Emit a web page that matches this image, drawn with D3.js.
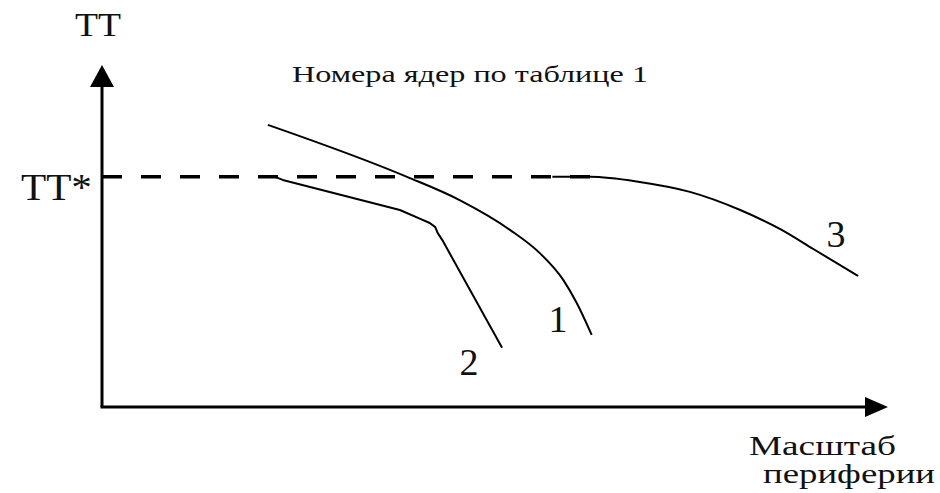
<!DOCTYPE html>
<html>
<head>
<meta charset="utf-8">
<script src="https://cdn.jsdelivr.net/npm/d3@7/dist/d3.min.js"></script>
<style>
  html, body { margin: 0; padding: 0; background: #fff; }
  svg { display: block; }
</style>
</head>
<body>
<svg id="chart" width="940" height="493"></svg>
<script>
// Threshold level TT* (relative units)
const ttStar = 67.3;
const ttStarEnd = 62.1;

// Curves by core number (x = periphery scale, y = TT), relative units
const curve1 = [[21.1, 82.5], [38.8, 67.3], [45.5, 60.5], [51.9, 51.8], [55.7, 45.0],
                [58.7, 37.1], [60.4, 30.4], [62.3, 21.1]];
const curve2 = [[22.0, 67.3], [23.0, 66.4], [37.9, 57.6], [40.5, 55.0], [41.7, 53.8],
                [42.4, 52.6], [42.7, 50.9], [43.3, 48.8], [50.9, 17.3]];
const curve3 = [[57.3, 67.3], [62.1, 67.3], [68.4, 65.8], [74.8, 62.9], [81.2, 57.6],
                [86.3, 52.0], [90.5, 46.2], [96.2, 38.3]];

const curveNames = ["1", "2", "3"];
const curveLabelPos = [[58.0, 21.9], [46.7, 9.4], [93.4, 46.8]];

const title = "Номера ядер по таблице 1";
const yAxisLabel = "ТТ";
const ttStarLabel = "ТТ*";
const xAxisLabel = ["Масштаб", "периферии"];

const serif = "'Liberation Serif', 'Times New Roman', Times, 'DejaVu Serif', serif";

const svg = d3.select("#chart");
const x = d3.scaleLinear().domain([0, 100]).range([102, 888]);
const y = d3.scaleLinear().domain([0, 100]).range([407, 65]);

// Axes with arrowheads
svg.append("line")
  .attr("x1", x(0)).attr("y1", y(0)).attr("x2", x(0)).attr("y2", y(100) + 18)
  .attr("stroke", "#000").attr("stroke-width", 3);
svg.append("line")
  .attr("x1", x(0) - 1.5).attr("y1", y(0)).attr("x2", x(100) - 18).attr("y2", y(0))
  .attr("stroke", "#000").attr("stroke-width", 3);
svg.append("path")
  .attr("d", `M${x(0)},${y(100)} L${x(0) - 12},${y(100) + 22} L${x(0) + 12},${y(100) + 22} Z`)
  .attr("fill", "#000");
svg.append("path")
  .attr("d", `M${x(100)},${y(0)} L${x(100) - 23},${y(0) - 10} L${x(100) - 23},${y(0) + 10} Z`)
  .attr("fill", "#000");

// TT* dashed threshold
svg.append("line")
  .attr("x1", x(0)).attr("y1", y(ttStar)).attr("x2", x(ttStarEnd)).attr("y2", y(ttStar))
  .attr("stroke", "#000").attr("stroke-width", 3.5)
  .attr("stroke-dasharray", "20 19");

// Curves: 1 and 3 are smooth, 2 is a broken line with a kink
const smooth = d3.line().x(d => x(d[0])).y(d => y(d[1])).curve(d3.curveMonotoneX);
const broken = d3.line().x(d => x(d[0])).y(d => y(d[1])).curve(d3.curveLinear);
[[curve1, smooth], [curve2, broken], [curve3, smooth]].forEach(([c, gen]) => {
  svg.append("path").attr("d", gen(c))
    .attr("fill", "none").attr("stroke", "#000").attr("stroke-width", 2)
    .attr("stroke-linejoin", "round");
});

const addText = (s, px, py, size, len) => {
  const t = svg.append("text")
    .attr("x", px).attr("y", py)
    .attr("font-family", serif).attr("font-size", size)
    .attr("fill", "#111").text(s);
  if (len) t.attr("textLength", len).attr("lengthAdjust", "spacingAndGlyphs");
  return t;
};

// Curve number labels
curveNames.forEach((n, i) => {
  addText(n, x(curveLabelPos[i][0]), y(curveLabelPos[i][1]), 38).attr("text-anchor", "middle");
});

// Text
addText(yAxisLabel, 75, 36, 34, 46);
addText(ttStarLabel, 21, 200, 38, 71);
addText(title, 292, 82, 23, 356);
addText(xAxisLabel[0], 749, 455, 27, 147);
addText(xAxisLabel[1], 763, 483, 27, 172);
</script>
</body>
</html>
